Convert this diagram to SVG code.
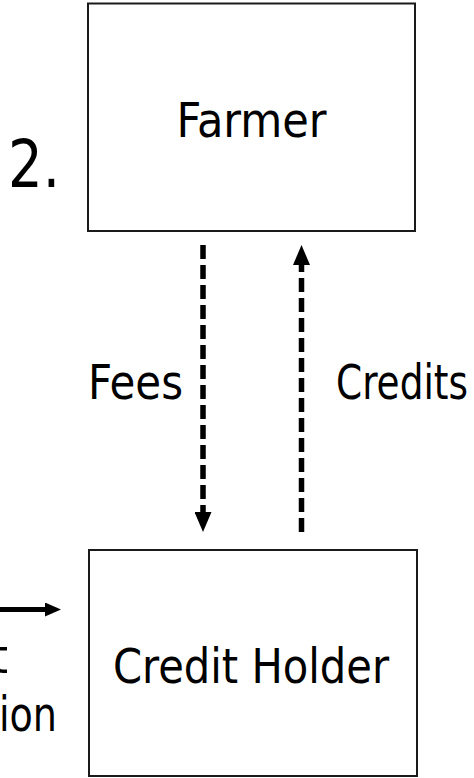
<svg xmlns="http://www.w3.org/2000/svg" width="474" height="778" viewBox="0 0 474 778">
  <style>
    .box { fill: #ffffff; stroke: #1a1a1a; stroke-width: 2; }
    .lbl { font-family: "DejaVu Sans Condensed", "DejaVu Sans", sans-serif; font-stretch: condensed; font-size: 48px; fill: #000000; }
    .dash { fill: none; stroke: #000000; stroke-width: 5.5; stroke-dasharray: 14 6; }
    .solid { fill: none; stroke: #000000; stroke-width: 5; }
  </style>
  <defs>
    <marker id="headV" markerUnits="userSpaceOnUse" viewBox="0 0 20 17" markerWidth="20" markerHeight="17" refX="0" refY="8.5" orient="auto">
      <path d="M0,0 L20,8.5 L0,17 Z" fill="#000000"/>
    </marker>
    <marker id="headH" markerUnits="userSpaceOnUse" viewBox="0 0 16 14" markerWidth="16" markerHeight="14" refX="0" refY="7" orient="auto">
      <path d="M0,0 L16,7 L0,14 Z" fill="#000000"/>
    </marker>
  </defs>
  <rect width="474" height="778" fill="#ffffff"/>

  <g id="connectors">
    <path id="fees" class="dash" d="M203,245 L203,512" marker-end="url(#headV)"/>
    <path id="credits" class="dash" d="M301.5,532 L301.5,265" marker-end="url(#headV)"/>
    <path id="incoming" class="solid" d="M-10,609.5 L45,609.5" marker-end="url(#headH)"/>
  </g>

  <g id="node-farmer">
    <rect class="box" x="88" y="3.5" width="327" height="227.5"/>
    <text class="lbl" x="251.5" y="137" text-anchor="middle" textLength="150" lengthAdjust="spacingAndGlyphs">Farmer</text>
  </g>

  <g id="node-credit-holder">
    <rect class="box" x="89" y="550" width="328" height="226"/>
    <text class="lbl" x="251" y="683" text-anchor="middle" textLength="276" lengthAdjust="spacingAndGlyphs">Credit Holder</text>
  </g>

  <g id="labels">
    <text class="lbl" x="8" y="187" style="font-size:66px" textLength="52" lengthAdjust="spacingAndGlyphs">2.</text>
    <text class="lbl" x="88" y="399" textLength="95" lengthAdjust="spacingAndGlyphs">Fees</text>
    <text class="lbl" x="336" y="399" textLength="132" lengthAdjust="spacingAndGlyphs">Credits</text>
    <text class="lbl" x="-9" y="673" textLength="17" lengthAdjust="spacingAndGlyphs">t</text>
    <text class="lbl" x="-1" y="731" textLength="58" lengthAdjust="spacingAndGlyphs">ion</text>
  </g>
</svg>
